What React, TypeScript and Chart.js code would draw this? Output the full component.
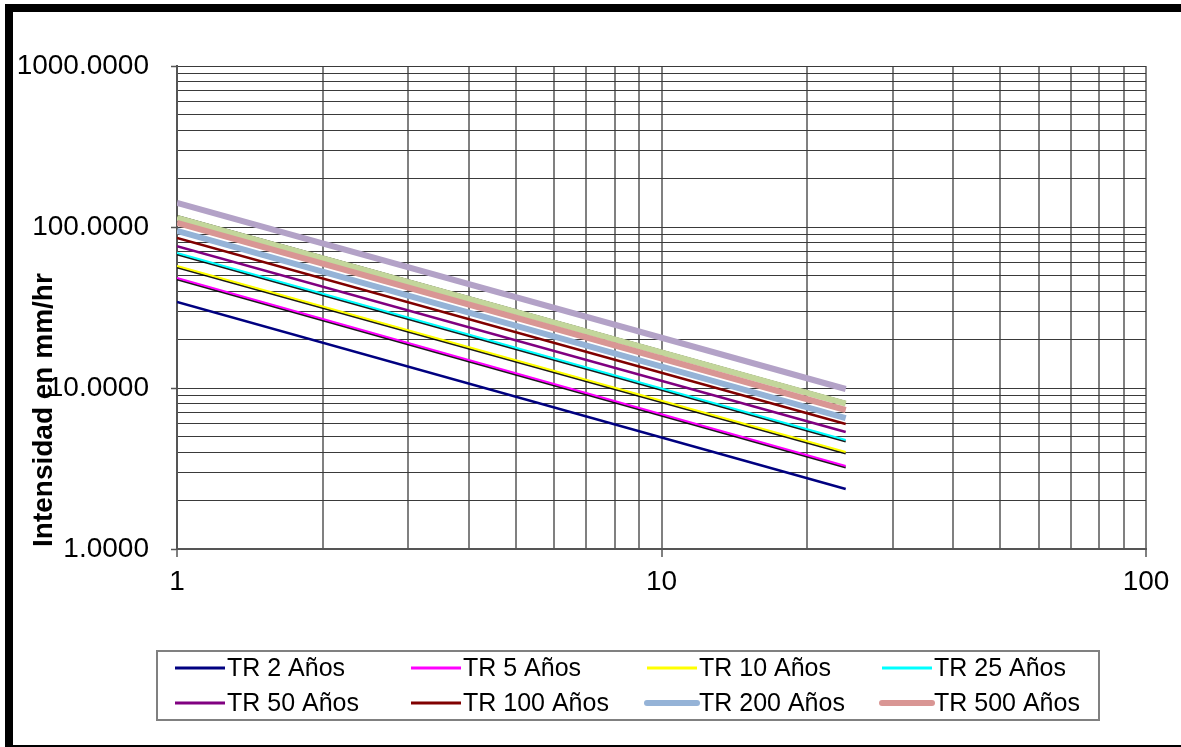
import React, { useEffect, useRef } from "react";
import { Chart, registerables } from "chart.js";

Chart.register(...registerables);

// ---- data ----
const durations = [1, 24];
const tr2 = [34.2, 2.36];
const tr5 = [48.2, 3.28];
const tr10 = [57.3, 4.0];
const tr25 = [69, 4.75];
const tr50 = [76, 5.33];
const tr100 = [85.5, 5.97];
const tr200 = [94.5, 6.5];
const tr500 = [106, 7.3];
const extraGreen = [114, 8.0];
const extraBlack = [117, 8.2];
const extraLilac = [141, 9.86];

const xGridValues = [1, 2, 3, 4, 5, 6, 7, 8, 9, 10, 20, 30, 40, 50, 60, 70, 80, 90, 100];
const yGridValues = [1, 2, 3, 4, 5, 6, 7, 8, 9, 10, 20, 30, 40, 50, 60, 70, 80, 90, 100, 200, 300, 400, 500, 600, 700, 800, 900, 1000];
const xMajor = [1, 10, 100];
const yMajor = [1, 10, 100, 1000];

const yTitle = "Intensidad en mm/hr";
const FONT = "'Liberation Sans', Arial, sans-serif";

const mk = (label: string, data: number[], color: string, width: number, shadow = false, legend = true) => ({
  label,
  data: durations.map((d, i) => ({ x: d, y: data[i] })),
  borderColor: color,
  backgroundColor: color,
  borderWidth: width,
  pointRadius: 0,
  fill: false,
  tension: 0,
  shadow,
  inLegend: legend,
});

const shadowPlugin = {
  id: "shadowPlugin",
  beforeDatasetDraw(chart: any, args: any) {
    const ds = chart.data.datasets[args.index];
    const ctx = chart.ctx;
    if (ds.shadow) {
      ctx.shadowColor = "rgba(0,0,0,0.9)";
      ctx.shadowBlur = 0;
      ctx.shadowOffsetX = 0;
      ctx.shadowOffsetY = 1.5;
    }
  },
  afterDatasetDraw(chart: any) {
    const ctx = chart.ctx;
    ctx.shadowColor = "rgba(0,0,0,0)";
    ctx.shadowOffsetY = 0;
  },
};

const decorPlugin = {
  id: "decorPlugin",
  afterDraw(chart: any) {
    const ctx = chart.ctx as CanvasRenderingContext2D;
    ctx.save();
    // outer frame
    ctx.fillStyle = "#000";
    ctx.fillRect(5, 4, 1181, 8);
    ctx.fillRect(5, 4, 8, 743);
    ctx.fillRect(5, 745, 1181, 2);

    // y title
    ctx.save();
    ctx.translate(44, 547);
    ctx.rotate(-Math.PI / 2);
    ctx.font = `bold 28px ${FONT}`;
    ctx.fillStyle = "#000";
    ctx.textAlign = "left";
    ctx.textBaseline = "middle";
    ctx.fillText(yTitle, 0, 0);
    ctx.restore();

    // legend
    const bx = 157, by = 651, bw = 942, bh = 69;
    ctx.fillStyle = "#fff";
    ctx.fillRect(bx, by, bw, bh);
    ctx.strokeStyle = "#808080";
    ctx.lineWidth = 2;
    ctx.strokeRect(bx, by, bw, bh);
    const items = chart.data.datasets.filter((d: any) => d.inLegend);
    const colX = [175, 411, 647, 882];
    const rowY = [668, 703];
    ctx.font = `25px ${FONT}`;
    ctx.textBaseline = "middle";
    ctx.textAlign = "left";
    items.forEach((d: any, i: number) => {
      const cx = colX[i % 4];
      const cy = rowY[Math.floor(i / 4)];
      ctx.strokeStyle = d.borderColor;
      ctx.lineWidth = d.borderWidth >= 4 ? 6 : 3;
      ctx.lineCap = d.borderWidth >= 4 ? "round" : "butt";
      ctx.beginPath();
      ctx.moveTo(cx, cy);
      ctx.lineTo(cx + 50, cy);
      ctx.stroke();
      ctx.fillStyle = "#000";
      ctx.fillText(d.label, cx + 52, cy + 1);
    });
    ctx.restore();
  },
};

export default function App() {
  const ref = useRef<HTMLCanvasElement | null>(null);

  useEffect(() => {
    if (!ref.current) return;
    const datasets = [
      mk("TR 2 Años", tr2, "#000080", 2.5),
      mk("TR 5 Años", tr5, "#ff00ff", 2, true),
      mk("TR 10 Años", tr10, "#ffff00", 2, true),
      mk("TR 25 Años", tr25, "#00ffff", 2, true),
      mk("TR 50 Años", tr50, "#800080", 2.5),
      mk("TR 100 Años", tr100, "#800000", 2.5),
      mk("TR 200 Años", tr200, "#95b3d7", 6),
      mk("TR 500 Años", tr500, "#d99694", 6),
      mk("", extraGreen, "#c3d69b", 6, false, false),
      mk("", extraBlack, "#000000", 2, false, false),
      mk("", extraLilac, "#b3a2c7", 6, false, false),
    ];
    const chart = new Chart(ref.current, {
      type: "line",
      data: { datasets: datasets as any },
      options: {
        responsive: false,
        animation: false,
        devicePixelRatio: 1,
        layout: { padding: { left: 0, top: 66, right: 35, bottom: 138 } },
        plugins: {
          legend: { display: false },
          title: { display: false },
          tooltip: { enabled: false },
        },
        scales: {
          x: {
            type: "logarithmic",
            min: 1,
            max: 100,
            afterBuildTicks: (scale: any) => {
              scale.ticks = xGridValues.map((v) => ({ value: v }));
            },
            afterFit: (scale: any) => {
              scale.height = 60;
            },
            ticks: {
              autoSkip: false,
              maxRotation: 0,
              padding: 8,
              color: "#000",
              font: { family: FONT, size: 28 },
              callback: (v: any) => (xMajor.includes(Number(v)) ? String(v) : ""),
            },
            grid: {
              color: "#808080",
              lineWidth: 2,
              tickLength: 8,
              tickColor: (c: any) => (c.tick && xMajor.includes(c.tick.value) ? "#555" : "rgba(0,0,0,0)"),
              tickWidth: 1.5,
            },
            border: { color: "#555", width: 2 },
          },
          y: {
            type: "logarithmic",
            min: 1,
            max: 1000,
            afterBuildTicks: (scale: any) => {
              scale.ticks = yGridValues.map((v) => ({ value: v }));
            },
            afterFit: (scale: any) => {
              scale.width = 177;
            },
            ticks: {
              autoSkip: false,
              padding: 22,
              color: "#000",
              font: { family: FONT, size: 28 },
              callback: (v: any) => (yMajor.includes(Number(v)) ? Number(v).toFixed(4) : ""),
            },
            grid: {
              color: "#3a3a3a",
              lineWidth: 1,
              tickLength: 6,
              tickColor: (c: any) => (c.tick && yMajor.includes(c.tick.value) ? "#555" : "rgba(0,0,0,0)"),
              tickWidth: 1.5,
            },
            border: { color: "#555", width: 2 },
          },
        },
      },
      plugins: [shadowPlugin, decorPlugin],
    });
    return () => chart.destroy();
  }, []);

  return (
    <div style={{ position: "absolute", left: 0, top: 0, width: 1181, height: 747, background: "#fff" }}>
      <canvas ref={ref} width={1181} height={747} style={{ display: "block" }} />
    </div>
  );
}
